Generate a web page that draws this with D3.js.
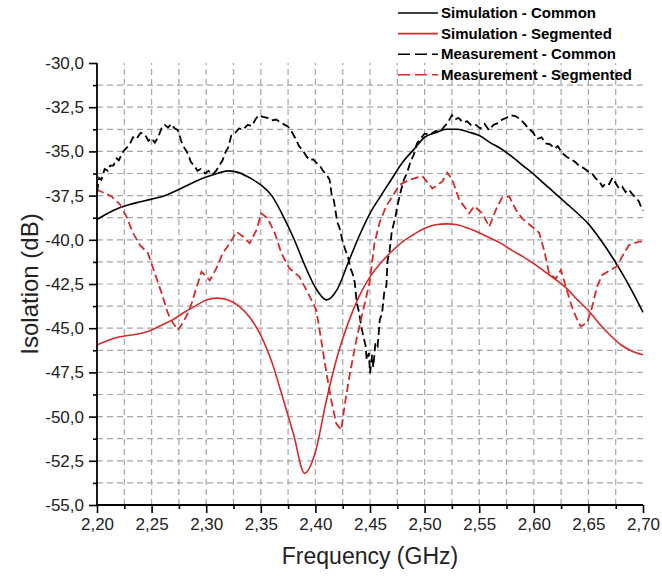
<!DOCTYPE html>
<html>
<head>
<meta charset="utf-8">
<script src="https://cdn.jsdelivr.net/npm/d3@7"></script>
<style>
  html, body { margin: 0; padding: 0; background: #fff; }
  svg { display: block; font-family: Arial, "Liberation Sans", sans-serif; }
</style>
</head>
<body>
<svg id="chart" width="662" height="578"></svg>
<script>
// ---------------- DATA ----------------
const simFreq = [2.20,2.21,2.22,2.23,2.24,2.25,2.26,2.27,2.28,2.29,2.30,2.31,2.32,2.33,2.34,2.35,2.36,2.37,2.38,2.39,2.40,2.41,2.42,2.43,2.44,2.45,2.46,2.47,2.48,2.49,2.50,2.51,2.52,2.53,2.54,2.55,2.56,2.57,2.58,2.59,2.60,2.61,2.62,2.63,2.64,2.65,2.66,2.67,2.68,2.69,2.70];
const simCommon = [-38.85,-38.5,-38.2,-38.0,-37.85,-37.7,-37.55,-37.3,-37.0,-36.7,-36.45,-36.25,-36.1,-36.2,-36.5,-36.9,-37.5,-38.6,-39.9,-41.4,-42.7,-43.4,-42.8,-41.3,-39.8,-38.5,-37.5,-36.55,-35.6,-34.9,-34.2,-33.95,-33.75,-33.75,-33.9,-34.1,-34.5,-34.85,-35.3,-35.8,-36.3,-36.85,-37.4,-37.95,-38.5,-39.1,-39.9,-40.8,-41.8,-42.9,-44.1];
const simSegmented = [-45.95,-45.7,-45.5,-45.4,-45.3,-45.1,-44.8,-44.5,-44.1,-43.75,-43.4,-43.3,-43.4,-43.75,-44.4,-45.4,-46.9,-48.9,-51.0,-53.2,-52.0,-49.1,-46.6,-44.7,-43.2,-42.1,-41.3,-40.65,-40.1,-39.7,-39.35,-39.15,-39.1,-39.15,-39.35,-39.6,-39.9,-40.2,-40.6,-40.95,-41.35,-41.8,-42.25,-42.75,-43.4,-44.0,-44.75,-45.4,-45.95,-46.3,-46.5];

const measFreqCommon = [2.200,2.202,2.204,2.207,2.210,2.212,2.215,2.218,2.220,2.224,2.227,2.230,2.233,2.236,2.240,2.244,2.247,2.250,2.253,2.256,2.259,2.262,2.265,2.268,2.271,2.274,2.277,2.280,2.283,2.286,2.289,2.292,2.295,2.299,2.302,2.306,2.309,2.312,2.315,2.318,2.320,2.323,2.326,2.330,2.334,2.338,2.342,2.345,2.348,2.352,2.356,2.360,2.364,2.368,2.372,2.375,2.378,2.382,2.385,2.389,2.392,2.395,2.398,2.401,2.404,2.407,2.410,2.413,2.415,2.417,2.420,2.422,2.425,2.427,2.430,2.432,2.434,2.436,2.438,2.440,2.442,2.444,2.446,2.447,2.449,2.450,2.452,2.453,2.455,2.457,2.459,2.461,2.463,2.465,2.466,2.468,2.470,2.473,2.475,2.478,2.481,2.484,2.487,2.490,2.493,2.496,2.500,2.505,2.510,2.514,2.518,2.521,2.525,2.528,2.531,2.535,2.539,2.543,2.547,2.551,2.555,2.559,2.563,2.567,2.571,2.575,2.579,2.583,2.587,2.591,2.595,2.599,2.603,2.607,2.611,2.615,2.619,2.622,2.626,2.630,2.634,2.638,2.642,2.646,2.650,2.654,2.657,2.660,2.663,2.666,2.669,2.672,2.675,2.678,2.681,2.684,2.687,2.690,2.693,2.696,2.698,2.700];
const measCommon = [-37.3,-36.5,-36.6,-36.0,-36.1,-35.8,-35.8,-35.4,-35.5,-35.0,-34.8,-34.6,-34.2,-34.3,-33.95,-34.05,-34.4,-34.25,-34.5,-34.2,-33.7,-33.5,-33.65,-33.45,-33.7,-33.8,-34.4,-34.8,-35.1,-35.6,-35.8,-36.1,-36.0,-36.25,-36.1,-36.3,-36.1,-35.8,-35.5,-35.0,-34.8,-34.1,-34.0,-33.7,-33.75,-33.5,-33.55,-33.2,-32.95,-33.05,-33.1,-33.25,-33.2,-33.35,-33.5,-33.6,-33.85,-34.3,-34.7,-35.0,-35.3,-35.5,-35.45,-35.65,-35.8,-36.1,-36.3,-36.6,-37.5,-37.8,-39.0,-39.3,-40.1,-40.5,-41.0,-41.6,-41.9,-42.4,-43.6,-44.1,-44.9,-45.5,-46.0,-46.8,-46.4,-47.55,-46.5,-47.2,-45.8,-46.0,-44.5,-44.2,-43.0,-42.6,-41.2,-40.6,-39.5,-38.8,-38.1,-37.3,-36.6,-36.2,-35.6,-35.2,-34.55,-34.3,-34.0,-34.05,-33.85,-33.9,-33.6,-33.4,-32.95,-33.2,-33.1,-33.35,-33.3,-33.55,-33.5,-33.7,-33.45,-33.8,-33.5,-33.4,-33.2,-33.1,-32.95,-33.0,-33.15,-33.4,-33.7,-33.9,-34.3,-34.2,-34.55,-34.6,-34.85,-34.7,-35.1,-35.3,-35.45,-35.6,-35.85,-35.95,-36.15,-36.3,-36.55,-36.7,-37.0,-36.8,-36.85,-36.5,-36.8,-37.1,-37.0,-37.3,-37.15,-37.4,-37.6,-37.8,-38.1,-38.35];

const measFreqSegmented = [2.200,2.2012,2.2134,2.2210,2.2271,2.2329,2.2393,2.2466,2.2530,2.2591,2.2649,2.2695,2.2740,2.2786,2.2832,2.2866,2.2896,2.2957,2.3033,2.3094,2.3152,2.3216,2.3277,2.3334,2.3398,2.3460,2.3505,2.3563,2.3627,2.3688,2.3760,2.3855,2.3947,2.4008,2.4054,2.4100,2.4145,2.4191,2.4237,2.4267,2.4312,2.4374,2.4431,2.4495,2.4541,2.4587,2.4648,2.4705,2.4769,2.4861,2.4980,2.5071,2.5163,2.5208,2.5254,2.5318,2.5409,2.5455,2.5528,2.5592,2.5653,2.5711,2.5775,2.5836,2.5894,2.5985,2.6049,2.6095,2.6140,2.6202,2.6248,2.6293,2.6339,2.6385,2.6430,2.6488,2.6534,2.6579,2.6625,2.6705,2.6762,2.6808,2.6872,2.6963,2.700];
const measSegmented = [-37.3,-37.2,-37.55,-38.0,-38.7,-39.6,-40.3,-40.75,-41.9,-43.0,-44.15,-44.7,-45.1,-44.7,-44.15,-43.6,-43.0,-41.8,-42.3,-41.6,-40.75,-40.2,-39.55,-39.8,-40.2,-39.45,-38.5,-38.8,-39.6,-40.75,-41.6,-42.1,-43.2,-43.97,-45.7,-47.5,-49.06,-50.4,-50.75,-49.4,-47.7,-45.7,-44.15,-42.45,-40.2,-39.05,-38.1,-37.55,-36.9,-36.6,-36.4,-37.1,-36.7,-36.2,-36.6,-37.75,-38.5,-38.1,-38.5,-39.26,-38.3,-37.6,-37.55,-38.3,-38.8,-39.26,-39.6,-40.6,-41.9,-42.2,-41.7,-42.65,-43.6,-44.35,-44.9,-44.7,-43.8,-42.65,-42.0,-41.7,-41.5,-40.95,-40.3,-40.1,-40.1];

const xTickLabels = ["2,20","2,25","2,30","2,35","2,40","2,45","2,50","2,55","2,60","2,65","2,70"];
const yTickLabels = ["-30,0","-32,5","-35,0","-37,5","-40,0","-42,5","-45,0","-47,5","-50,0","-52,5","-55,0"];
const seriesNames = ["Simulation - Common","Simulation - Segmented","Measurement - Common","Measurement - Segmented"];

// ---------------- LAYOUT ----------------
const svg = d3.select("#chart");
const M = {left: 97, top: 63, right: 643, bottom: 505};
const x = d3.scaleLinear().domain([2.20, 2.70]).range([M.left, M.right]);
const y = d3.scaleLinear().domain([-55, -30]).range([M.bottom, M.top]);

const RED = "#d42a2a";
const GRID = "#a6a6a6";

// grid (every minor step, excluding top/right edges and axis lines)
const xGrid = d3.range(1, 20).map(i => 2.20 + i * 0.025);
const yGrid = d3.range(1, 20).map(i => -55 + i * 1.25);
const g = svg.append("g");
g.selectAll("line.vg").data(xGrid).join("line")
  .attr("x1", d => x(d)).attr("x2", d => x(d))
  .attr("y1", M.bottom).attr("y2", M.top)
  .attr("stroke", GRID).attr("stroke-width", 1.2).attr("stroke-dasharray", "6,4");
g.selectAll("line.hg").data(yGrid).join("line")
  .attr("y1", d => y(d)).attr("y2", d => y(d))
  .attr("x1", M.left).attr("x2", M.right)
  .attr("stroke", GRID).attr("stroke-width", 1.2).attr("stroke-dasharray", "6,4");

// series
const simLine = vals => d3.line().curve(d3.curveMonotoneX)
  .x((d, i) => x(simFreq[i])).y(d => y(d))(vals);
const measLine = (fr, vals) => d3.line().curve(d3.curveLinear)
  .x((d, i) => x(fr[i])).y(d => y(d))(vals);

svg.append("path").attr("d", simLine(simCommon)).attr("fill", "none").attr("stroke", "#000").attr("stroke-width", 1.6);
svg.append("path").attr("d", simLine(simSegmented)).attr("fill", "none").attr("stroke", RED).attr("stroke-width", 1.6);
svg.append("path").attr("d", measLine(measFreqCommon, measCommon)).attr("fill", "none").attr("stroke", "#000").attr("stroke-width", 1.8).attr("stroke-dasharray", "8,4");
svg.append("path").attr("d", measLine(measFreqSegmented, measSegmented)).attr("fill", "none").attr("stroke", RED).attr("stroke-width", 1.8).attr("stroke-dasharray", "8,4");

// axes
const xMajor = d3.range(0, 11).map(i => 2.20 + i * 0.05);
const xMinor = d3.range(0, 10).map(i => 2.225 + i * 0.05);
const yMajor = d3.range(0, 11).map(i => -30 - i * 2.5);
const yMinor = d3.range(0, 10).map(i => -31.25 - i * 2.5);

const xAxis = d3.axisBottom(x).tickValues(xMajor).tickSize(8).tickPadding(5)
  .tickFormat((d, i) => xTickLabels[i]);
const yAxis = d3.axisLeft(y).tickValues(yMajor).tickSize(8).tickPadding(5)
  .tickFormat((d, i) => yTickLabels[i]);

const gx = svg.append("g").attr("transform", `translate(0,${M.bottom})`).call(xAxis);
const gy = svg.append("g").attr("transform", `translate(${M.left},0)`).call(yAxis);
svg.append("g").attr("transform", `translate(0,${M.bottom})`)
  .call(d3.axisBottom(x).tickValues(xMinor).tickSize(4).tickFormat(""))
  .select(".domain").remove();
svg.append("g").attr("transform", `translate(${M.left},0)`)
  .call(d3.axisLeft(y).tickValues(yMinor).tickSize(4).tickFormat(""))
  .select(".domain").remove();

svg.selectAll(".domain").attr("stroke", "#000").attr("stroke-width", 1.8);
svg.selectAll(".tick line").attr("stroke", "#000").attr("stroke-width", 1.6);
[gx, gy].forEach(a => a.selectAll("text").attr("font-size", 17).attr("fill", "#222")
  .attr("font-family", "Arial, 'Liberation Sans', sans-serif"));
gx.select(".domain").attr("d", `M${M.left},0H${M.right}`);
gy.select(".domain").attr("d", `M0,${M.bottom}V${M.top}`);

// axis titles
svg.append("text").attr("x", (M.left + M.right) / 2).attr("y", 564)
  .attr("text-anchor", "middle").attr("font-size", 23).attr("fill", "#222")
  .text("Frequency (GHz)");
svg.append("text").attr("transform", `translate(38,${(M.top + M.bottom) / 2}) rotate(-90)`)
  .attr("text-anchor", "middle").attr("font-size", 24).attr("fill", "#222")
  .text("Isolation (dB)");

// legend
const legStyles = [
  {c: "#000", dash: null},
  {c: RED, dash: null},
  {c: "#000", dash: "12,5"},
  {c: RED, dash: "12,5"}
];
const lg = svg.append("g");
seriesNames.forEach((name, i) => {
  const yy = 13 + i * 20.6;
  const ln = lg.append("line").attr("x1", 398).attr("x2", 438).attr("y1", yy).attr("y2", yy)
    .attr("stroke", legStyles[i].c).attr("stroke-width", 1.6);
  if (legStyles[i].dash) ln.attr("stroke-dasharray", legStyles[i].dash);
  lg.append("text").attr("x", 441).attr("y", yy).attr("dy", "0.35em")
    .attr("font-size", 15).attr("font-weight", "bold").attr("fill", "#000").text(name);
});
</script>
</body>
</html>
